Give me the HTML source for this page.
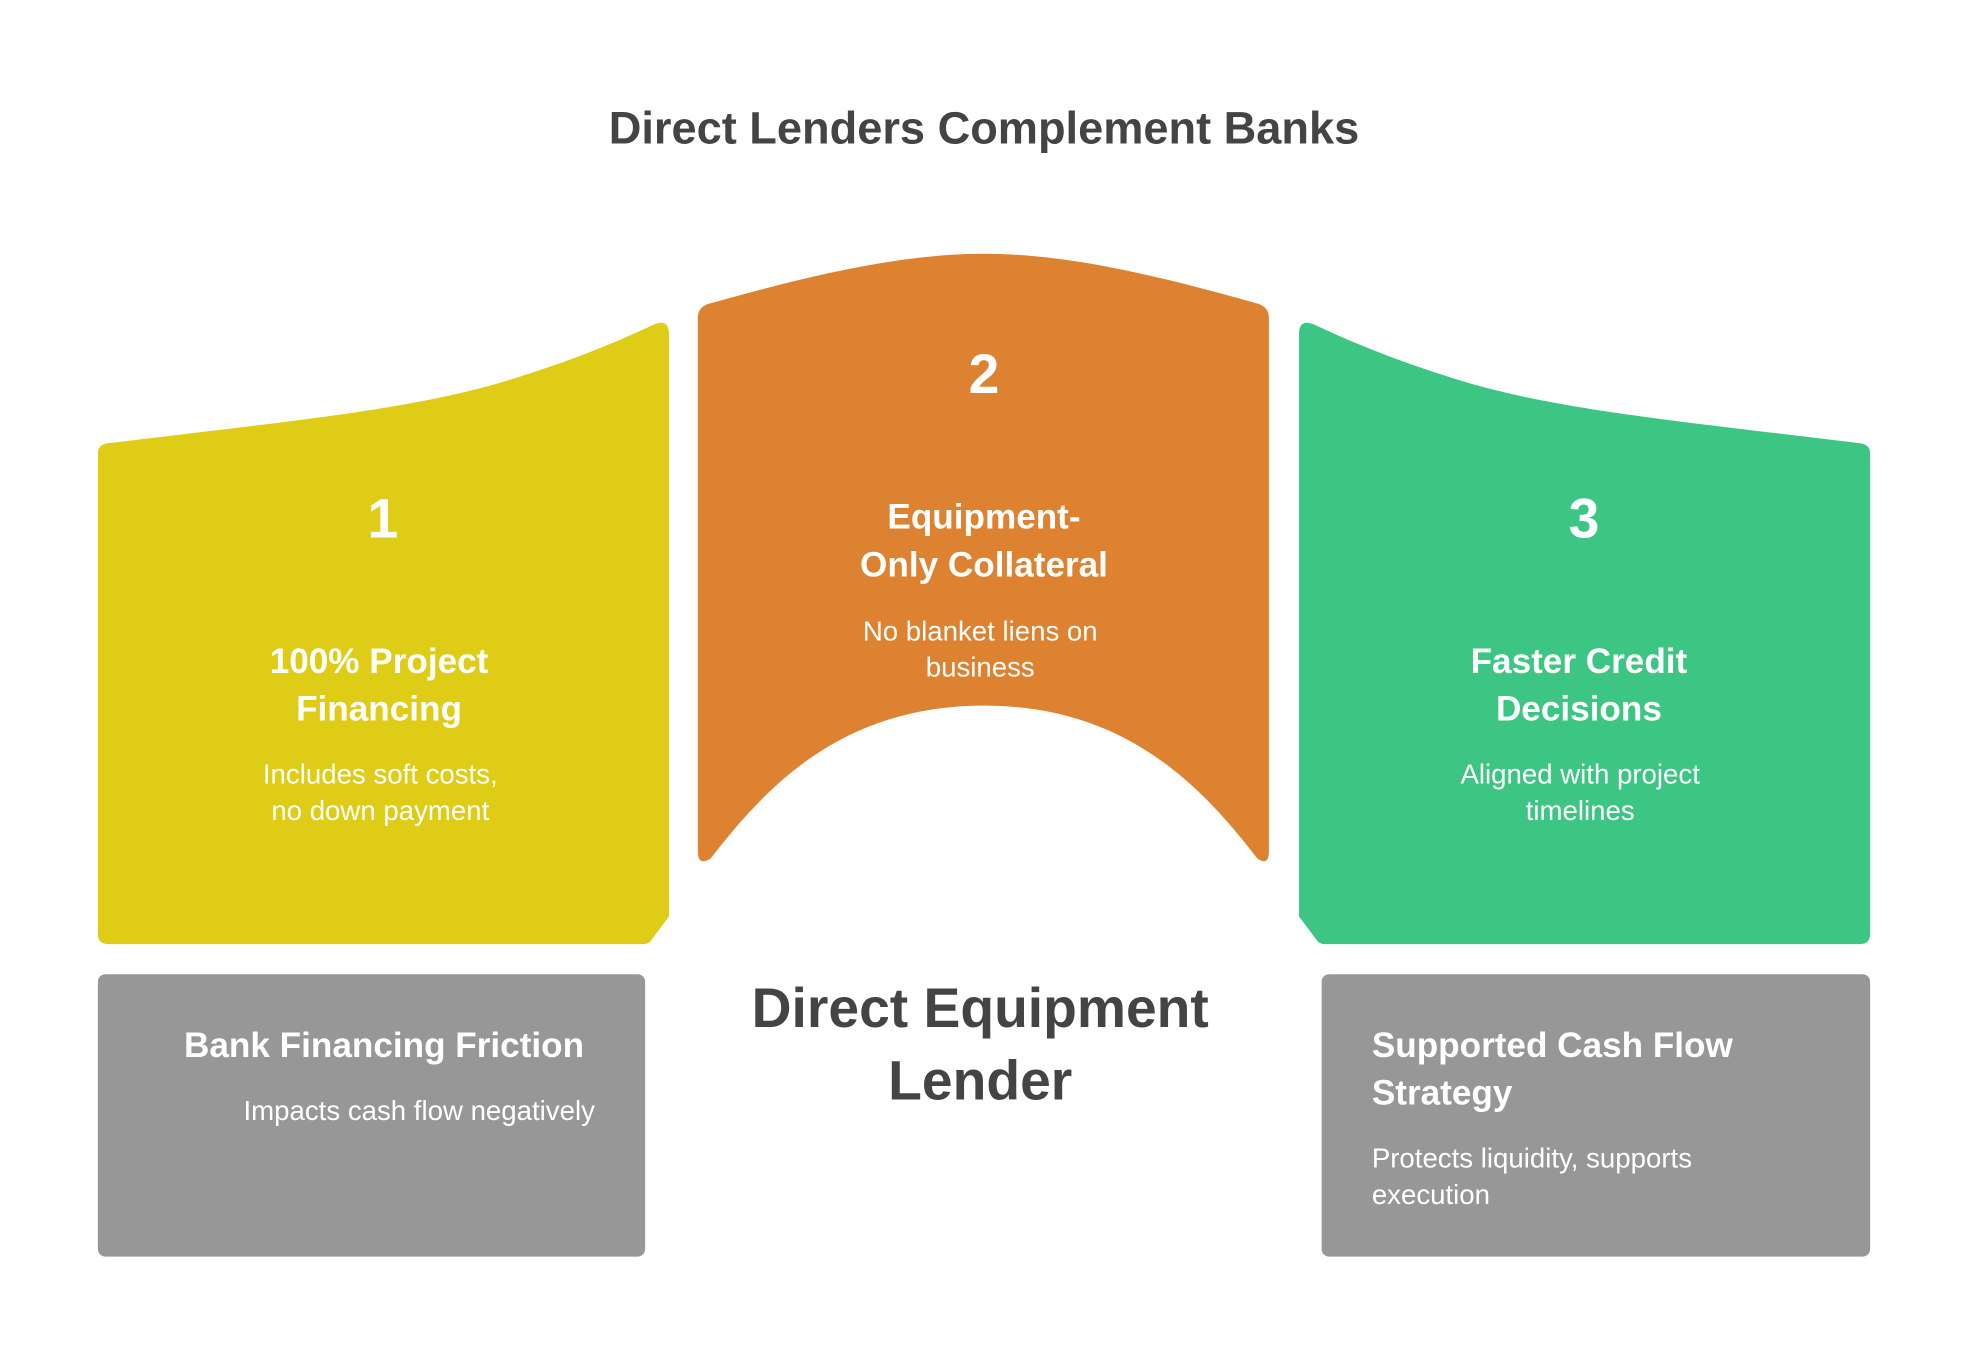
<!DOCTYPE html>
<html><head><meta charset="utf-8"><style>
html,body{margin:0;padding:0;background:#fff;}
svg{display:block;}
text{font-family:"Liberation Sans",sans-serif;}
</style></head><body>
<svg width="1968" height="1356" viewBox="0 0 1568 1080" xmlns="http://www.w3.org/2000/svg">
<rect width="1568" height="1080" fill="#fff"/>
<text x="784" y="114" text-anchor="middle" font-size="36" font-weight="bold" fill="#444">Direct Lenders Complement Banks</text>

<path d="M86 353 C250 333 340 325 420 298 C470 282 500 268 522 258 Q533 254 533 266 L533 730 L518 750 Q516 752 512 752 L86 752 Q78 752 78 744 L78 361 Q78 354 86 353 Z" fill="#DFCC17"/>
<path d="M564 242 C650 218 720 202 784 202 C848 202 918 218 1003 242 Q1011 245 1011 253 L1011 678 Q1011 690 1002 684 C960 630 900 562 784 562 C668 562 608 630 566 684 Q556 690 556 678 L556 253 Q556 245 564 242 Z" fill="#DD8231"/>
<path d="M1482 353 C1318 333 1228 325 1148 298 C1098 282 1068 268 1046 258 Q1035 254 1035 266 L1035 730 L1050 750 Q1052 752 1056 752 L1482 752 Q1490 752 1490 744 L1490 361 Q1490 354 1482 353 Z" fill="#3DC683"/>

<rect x="78" y="776" width="436" height="225" rx="6" fill="#979797"/>
<rect x="1053" y="776" width="437" height="225" rx="6" fill="#979797"/>

<g fill="#fff" text-anchor="middle" font-weight="bold">
<text x="305" y="428" font-size="44">1</text>
<text x="784" y="313" font-size="44">2</text>
<text x="1262" y="428" font-size="44">3</text>
<text x="302" y="536" font-size="28">100% Project</text>
<text x="302" y="574" font-size="28">Financing</text>
<text x="784" y="421" font-size="28">Equipment-</text>
<text x="784" y="459" font-size="28">Only Collateral</text>
<text x="1258" y="536" font-size="28">Faster Credit</text>
<text x="1258" y="574" font-size="28">Decisions</text>
</g>
<g fill="#fff" text-anchor="middle" font-size="22">
<text x="303" y="624">Includes soft costs,</text>
<text x="303" y="653">no down payment</text>
<text x="781" y="510">No blanket liens on</text>
<text x="781" y="539">business</text>
<text x="1259" y="624">Aligned with project</text>
<text x="1259" y="653">timelines</text>
</g>

<text x="306" y="842" text-anchor="middle" font-size="28" font-weight="bold" fill="#fff">Bank Financing Friction</text>
<text x="474" y="892" text-anchor="end" font-size="22" fill="#fff">Impacts cash flow negatively</text>

<text x="1093" y="842" font-size="28" font-weight="bold" fill="#fff">Supported Cash Flow</text>
<text x="1093" y="880" font-size="28" font-weight="bold" fill="#fff">Strategy</text>
<text x="1093" y="930" font-size="22" fill="#fff">Protects liquidity, supports</text>
<text x="1093" y="959" font-size="22" fill="#fff">execution</text>

<text x="781" y="818" text-anchor="middle" font-size="44" font-weight="bold" fill="#444">Direct Equipment</text>
<text x="781" y="876" text-anchor="middle" font-size="44" font-weight="bold" fill="#444">Lender</text>
</svg>
</body></html>
